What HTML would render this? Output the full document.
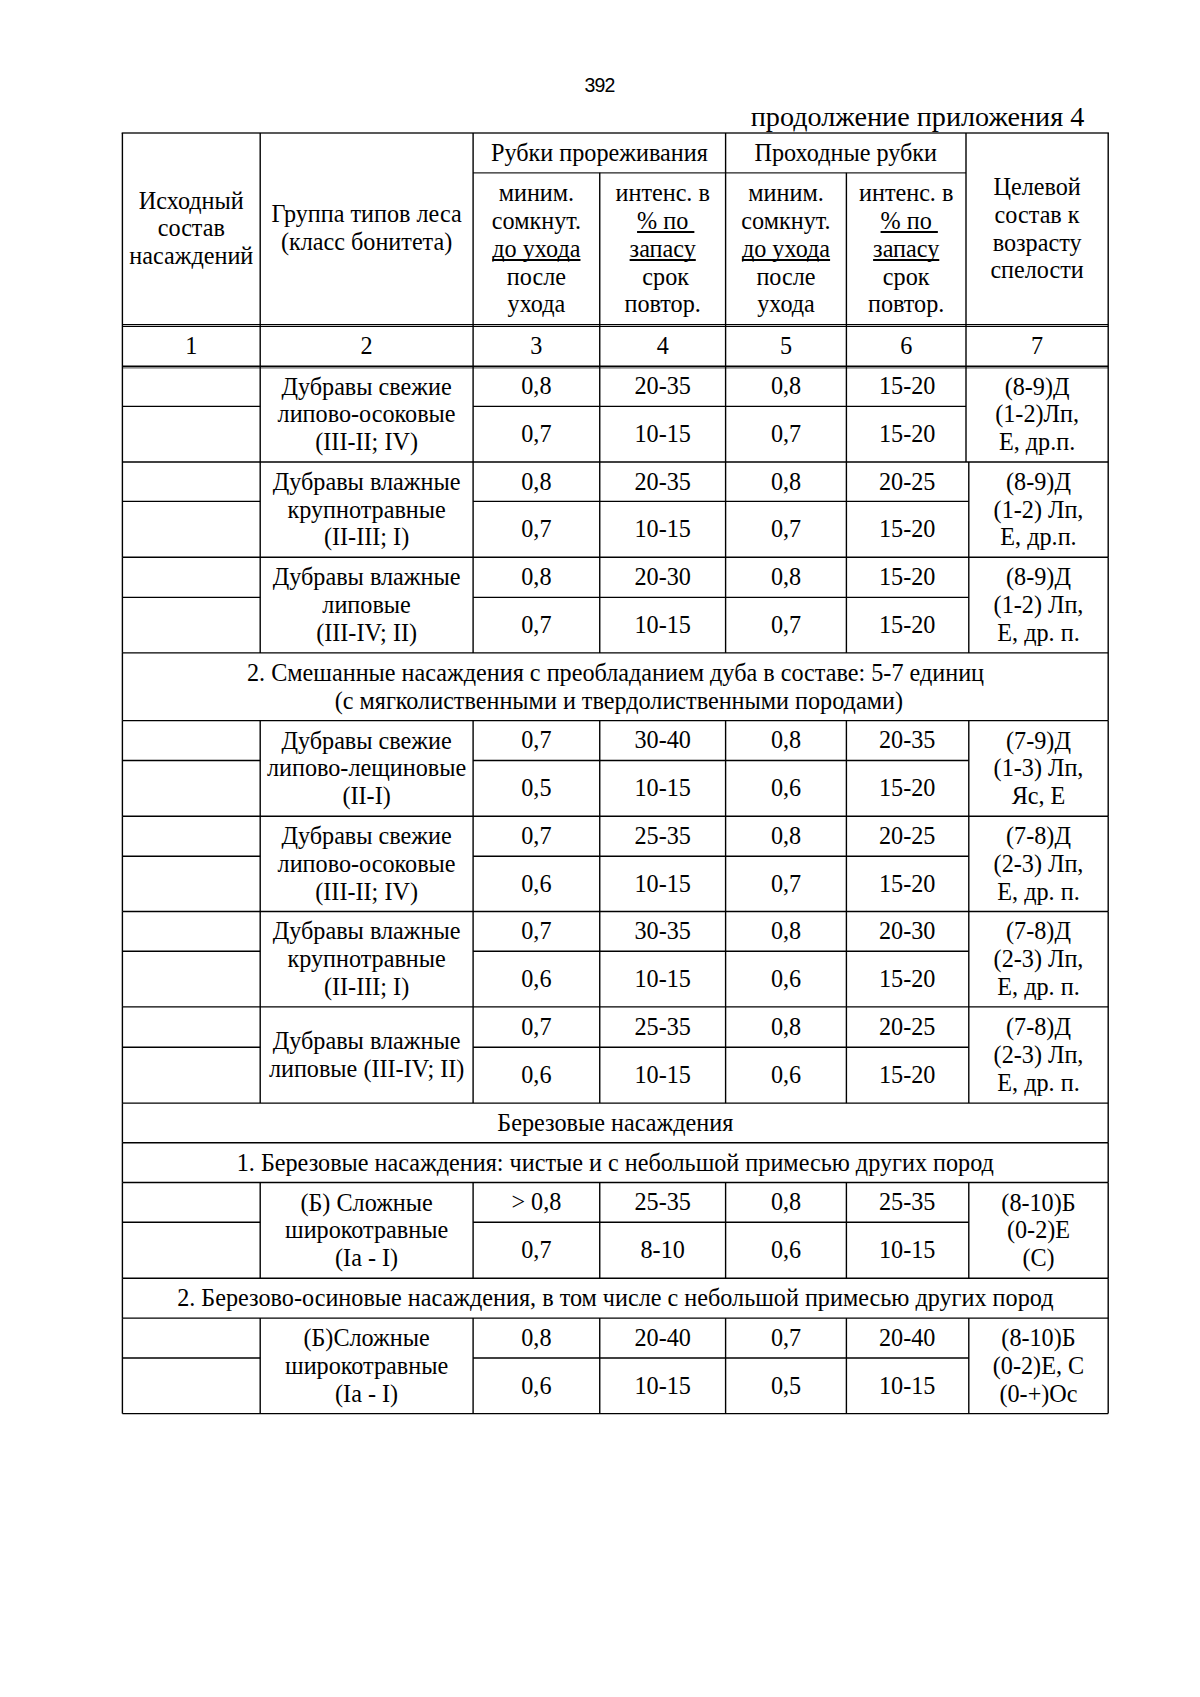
<!DOCTYPE html>
<html lang="ru"><head><meta charset="utf-8"><title>продолжение приложения 4</title>
<style>
html,body{margin:0;padding:0;background:#fff}
.pg{position:relative;width:1200px;height:1697px;background:#fff;overflow:hidden;color:#000;
 font-family:"Liberation Serif","Times New Roman",serif;font-size:24.19px;line-height:27.8px}
.pg svg{position:absolute;left:0;top:0}
.t{position:absolute;white-space:pre;transform:translateX(-50%);height:27.8px}
.n{position:absolute;white-space:pre;font-family:"Liberation Sans",Arial,sans-serif;font-size:19.5px;line-height:22px;letter-spacing:-0.9px}
.c{position:absolute;white-space:pre;font-size:28.2px;line-height:32px}
u{text-decoration-thickness:1.7px;text-underline-offset:1.7px;text-decoration-skip-ink:none}
</style></head><body>
<div class="pg">
<svg width="1200" height="1697" viewBox="0 0 1200 1697" fill="none">
<line x1="121.70" y1="133.00" x2="1108.90" y2="133.00" stroke="#222" stroke-width="1.3"/>
<line x1="473.10" y1="172.80" x2="966.00" y2="172.80" stroke="#222" stroke-width="1.3"/>
<line x1="122.40" y1="324.45" x2="1108.20" y2="324.45" stroke="#000" stroke-width="1.1"/>
<line x1="122.40" y1="326.30" x2="1108.20" y2="326.30" stroke="#000" stroke-width="1.2"/>
<line x1="122.40" y1="366.20" x2="1108.20" y2="366.20" stroke="#000" stroke-width="1.4"/>
<line x1="122.40" y1="367.80" x2="1108.20" y2="367.80" stroke="#666" stroke-width="1.2"/>
<line x1="122.40" y1="133.00" x2="122.40" y2="367.00" stroke="#000" stroke-width="1.4"/>
<line x1="260.20" y1="133.00" x2="260.20" y2="367.00" stroke="#000" stroke-width="1.4"/>
<line x1="473.10" y1="133.00" x2="473.10" y2="367.00" stroke="#000" stroke-width="1.4"/>
<line x1="725.60" y1="133.00" x2="725.60" y2="367.00" stroke="#000" stroke-width="1.4"/>
<line x1="966.00" y1="133.00" x2="966.00" y2="367.00" stroke="#000" stroke-width="1.4"/>
<line x1="1108.20" y1="133.00" x2="1108.20" y2="367.00" stroke="#000" stroke-width="1.4"/>
<line x1="599.75" y1="172.80" x2="599.75" y2="367.00" stroke="#000" stroke-width="1.4"/>
<line x1="846.40" y1="172.80" x2="846.40" y2="367.00" stroke="#000" stroke-width="1.4"/>
<line x1="122.40" y1="406.40" x2="260.20" y2="406.40" stroke="#000" stroke-width="1.4"/>
<line x1="473.10" y1="406.40" x2="966.00" y2="406.40" stroke="#000" stroke-width="1.4"/>
<line x1="122.40" y1="462.00" x2="1108.20" y2="462.00" stroke="#000" stroke-width="1.4"/>
<line x1="122.40" y1="367.00" x2="122.40" y2="462.00" stroke="#000" stroke-width="1.4"/>
<line x1="260.20" y1="367.00" x2="260.20" y2="462.00" stroke="#000" stroke-width="1.4"/>
<line x1="473.10" y1="367.00" x2="473.10" y2="462.00" stroke="#000" stroke-width="1.4"/>
<line x1="599.75" y1="367.00" x2="599.75" y2="462.00" stroke="#000" stroke-width="1.4"/>
<line x1="725.60" y1="367.00" x2="725.60" y2="462.00" stroke="#000" stroke-width="1.4"/>
<line x1="846.40" y1="367.00" x2="846.40" y2="462.00" stroke="#000" stroke-width="1.4"/>
<line x1="1108.20" y1="367.00" x2="1108.20" y2="462.00" stroke="#000" stroke-width="1.4"/>
<line x1="966.00" y1="367.00" x2="966.00" y2="462.00" stroke="#000" stroke-width="1.4"/>
<line x1="122.40" y1="501.40" x2="260.20" y2="501.40" stroke="#000" stroke-width="1.4"/>
<line x1="473.10" y1="501.40" x2="968.80" y2="501.40" stroke="#000" stroke-width="1.4"/>
<line x1="122.40" y1="557.20" x2="1108.20" y2="557.20" stroke="#000" stroke-width="1.4"/>
<line x1="122.40" y1="462.00" x2="122.40" y2="557.20" stroke="#000" stroke-width="1.4"/>
<line x1="260.20" y1="462.00" x2="260.20" y2="557.20" stroke="#000" stroke-width="1.4"/>
<line x1="473.10" y1="462.00" x2="473.10" y2="557.20" stroke="#000" stroke-width="1.4"/>
<line x1="599.75" y1="462.00" x2="599.75" y2="557.20" stroke="#000" stroke-width="1.4"/>
<line x1="725.60" y1="462.00" x2="725.60" y2="557.20" stroke="#000" stroke-width="1.4"/>
<line x1="846.40" y1="462.00" x2="846.40" y2="557.20" stroke="#000" stroke-width="1.4"/>
<line x1="1108.20" y1="462.00" x2="1108.20" y2="557.20" stroke="#000" stroke-width="1.4"/>
<line x1="968.80" y1="462.00" x2="968.80" y2="557.20" stroke="#000" stroke-width="1.4"/>
<line x1="122.40" y1="597.40" x2="260.20" y2="597.40" stroke="#000" stroke-width="1.4"/>
<line x1="473.10" y1="597.40" x2="968.80" y2="597.40" stroke="#000" stroke-width="1.4"/>
<line x1="122.40" y1="652.90" x2="1108.20" y2="652.90" stroke="#000" stroke-width="1.4"/>
<line x1="122.40" y1="557.20" x2="122.40" y2="652.90" stroke="#000" stroke-width="1.4"/>
<line x1="260.20" y1="557.20" x2="260.20" y2="652.90" stroke="#000" stroke-width="1.4"/>
<line x1="473.10" y1="557.20" x2="473.10" y2="652.90" stroke="#000" stroke-width="1.4"/>
<line x1="599.75" y1="557.20" x2="599.75" y2="652.90" stroke="#000" stroke-width="1.4"/>
<line x1="725.60" y1="557.20" x2="725.60" y2="652.90" stroke="#000" stroke-width="1.4"/>
<line x1="846.40" y1="557.20" x2="846.40" y2="652.90" stroke="#000" stroke-width="1.4"/>
<line x1="1108.20" y1="557.20" x2="1108.20" y2="652.90" stroke="#000" stroke-width="1.4"/>
<line x1="968.80" y1="557.20" x2="968.80" y2="652.90" stroke="#000" stroke-width="1.4"/>
<line x1="122.40" y1="720.60" x2="1108.20" y2="720.60" stroke="#000" stroke-width="1.4"/>
<line x1="122.40" y1="652.90" x2="122.40" y2="720.60" stroke="#000" stroke-width="1.4"/>
<line x1="1108.20" y1="652.90" x2="1108.20" y2="720.60" stroke="#000" stroke-width="1.4"/>
<line x1="122.40" y1="760.50" x2="260.20" y2="760.50" stroke="#000" stroke-width="1.4"/>
<line x1="473.10" y1="760.50" x2="968.80" y2="760.50" stroke="#000" stroke-width="1.4"/>
<line x1="122.40" y1="816.20" x2="1108.20" y2="816.20" stroke="#000" stroke-width="1.4"/>
<line x1="122.40" y1="720.60" x2="122.40" y2="816.20" stroke="#000" stroke-width="1.4"/>
<line x1="260.20" y1="720.60" x2="260.20" y2="816.20" stroke="#000" stroke-width="1.4"/>
<line x1="473.10" y1="720.60" x2="473.10" y2="816.20" stroke="#000" stroke-width="1.4"/>
<line x1="599.75" y1="720.60" x2="599.75" y2="816.20" stroke="#000" stroke-width="1.4"/>
<line x1="725.60" y1="720.60" x2="725.60" y2="816.20" stroke="#000" stroke-width="1.4"/>
<line x1="846.40" y1="720.60" x2="846.40" y2="816.20" stroke="#000" stroke-width="1.4"/>
<line x1="1108.20" y1="720.60" x2="1108.20" y2="816.20" stroke="#000" stroke-width="1.4"/>
<line x1="968.80" y1="720.60" x2="968.80" y2="816.20" stroke="#000" stroke-width="1.4"/>
<line x1="122.40" y1="856.20" x2="260.20" y2="856.20" stroke="#000" stroke-width="1.4"/>
<line x1="473.10" y1="856.20" x2="968.80" y2="856.20" stroke="#000" stroke-width="1.4"/>
<line x1="122.40" y1="911.50" x2="1108.20" y2="911.50" stroke="#000" stroke-width="1.4"/>
<line x1="122.40" y1="816.20" x2="122.40" y2="911.50" stroke="#000" stroke-width="1.4"/>
<line x1="260.20" y1="816.20" x2="260.20" y2="911.50" stroke="#000" stroke-width="1.4"/>
<line x1="473.10" y1="816.20" x2="473.10" y2="911.50" stroke="#000" stroke-width="1.4"/>
<line x1="599.75" y1="816.20" x2="599.75" y2="911.50" stroke="#000" stroke-width="1.4"/>
<line x1="725.60" y1="816.20" x2="725.60" y2="911.50" stroke="#000" stroke-width="1.4"/>
<line x1="846.40" y1="816.20" x2="846.40" y2="911.50" stroke="#000" stroke-width="1.4"/>
<line x1="1108.20" y1="816.20" x2="1108.20" y2="911.50" stroke="#000" stroke-width="1.4"/>
<line x1="968.80" y1="816.20" x2="968.80" y2="911.50" stroke="#000" stroke-width="1.4"/>
<line x1="122.40" y1="951.30" x2="260.20" y2="951.30" stroke="#000" stroke-width="1.4"/>
<line x1="473.10" y1="951.30" x2="968.80" y2="951.30" stroke="#000" stroke-width="1.4"/>
<line x1="122.40" y1="1006.90" x2="1108.20" y2="1006.90" stroke="#000" stroke-width="1.4"/>
<line x1="122.40" y1="911.50" x2="122.40" y2="1006.90" stroke="#000" stroke-width="1.4"/>
<line x1="260.20" y1="911.50" x2="260.20" y2="1006.90" stroke="#000" stroke-width="1.4"/>
<line x1="473.10" y1="911.50" x2="473.10" y2="1006.90" stroke="#000" stroke-width="1.4"/>
<line x1="599.75" y1="911.50" x2="599.75" y2="1006.90" stroke="#000" stroke-width="1.4"/>
<line x1="725.60" y1="911.50" x2="725.60" y2="1006.90" stroke="#000" stroke-width="1.4"/>
<line x1="846.40" y1="911.50" x2="846.40" y2="1006.90" stroke="#000" stroke-width="1.4"/>
<line x1="1108.20" y1="911.50" x2="1108.20" y2="1006.90" stroke="#000" stroke-width="1.4"/>
<line x1="968.80" y1="911.50" x2="968.80" y2="1006.90" stroke="#000" stroke-width="1.4"/>
<line x1="122.40" y1="1047.30" x2="260.20" y2="1047.30" stroke="#000" stroke-width="1.4"/>
<line x1="473.10" y1="1047.30" x2="968.80" y2="1047.30" stroke="#000" stroke-width="1.4"/>
<line x1="122.40" y1="1103.10" x2="1108.20" y2="1103.10" stroke="#000" stroke-width="1.4"/>
<line x1="122.40" y1="1006.90" x2="122.40" y2="1103.10" stroke="#000" stroke-width="1.4"/>
<line x1="260.20" y1="1006.90" x2="260.20" y2="1103.10" stroke="#000" stroke-width="1.4"/>
<line x1="473.10" y1="1006.90" x2="473.10" y2="1103.10" stroke="#000" stroke-width="1.4"/>
<line x1="599.75" y1="1006.90" x2="599.75" y2="1103.10" stroke="#000" stroke-width="1.4"/>
<line x1="725.60" y1="1006.90" x2="725.60" y2="1103.10" stroke="#000" stroke-width="1.4"/>
<line x1="846.40" y1="1006.90" x2="846.40" y2="1103.10" stroke="#000" stroke-width="1.4"/>
<line x1="1108.20" y1="1006.90" x2="1108.20" y2="1103.10" stroke="#000" stroke-width="1.4"/>
<line x1="968.80" y1="1006.90" x2="968.80" y2="1103.10" stroke="#000" stroke-width="1.4"/>
<line x1="122.40" y1="1142.70" x2="1108.20" y2="1142.70" stroke="#000" stroke-width="1.4"/>
<line x1="122.40" y1="1103.10" x2="122.40" y2="1142.70" stroke="#000" stroke-width="1.4"/>
<line x1="1108.20" y1="1103.10" x2="1108.20" y2="1142.70" stroke="#000" stroke-width="1.4"/>
<line x1="122.40" y1="1182.50" x2="1108.20" y2="1182.50" stroke="#000" stroke-width="1.4"/>
<line x1="122.40" y1="1142.70" x2="122.40" y2="1182.50" stroke="#000" stroke-width="1.4"/>
<line x1="1108.20" y1="1142.70" x2="1108.20" y2="1182.50" stroke="#000" stroke-width="1.4"/>
<line x1="122.40" y1="1222.30" x2="260.20" y2="1222.30" stroke="#000" stroke-width="1.4"/>
<line x1="473.10" y1="1222.30" x2="968.80" y2="1222.30" stroke="#000" stroke-width="1.4"/>
<line x1="122.40" y1="1278.20" x2="1108.20" y2="1278.20" stroke="#000" stroke-width="1.4"/>
<line x1="122.40" y1="1182.50" x2="122.40" y2="1278.20" stroke="#000" stroke-width="1.4"/>
<line x1="260.20" y1="1182.50" x2="260.20" y2="1278.20" stroke="#000" stroke-width="1.4"/>
<line x1="473.10" y1="1182.50" x2="473.10" y2="1278.20" stroke="#000" stroke-width="1.4"/>
<line x1="599.75" y1="1182.50" x2="599.75" y2="1278.20" stroke="#000" stroke-width="1.4"/>
<line x1="725.60" y1="1182.50" x2="725.60" y2="1278.20" stroke="#000" stroke-width="1.4"/>
<line x1="846.40" y1="1182.50" x2="846.40" y2="1278.20" stroke="#000" stroke-width="1.4"/>
<line x1="1108.20" y1="1182.50" x2="1108.20" y2="1278.20" stroke="#000" stroke-width="1.4"/>
<line x1="968.80" y1="1182.50" x2="968.80" y2="1278.20" stroke="#000" stroke-width="1.4"/>
<line x1="122.40" y1="1318.10" x2="1108.20" y2="1318.10" stroke="#000" stroke-width="1.4"/>
<line x1="122.40" y1="1278.20" x2="122.40" y2="1318.10" stroke="#000" stroke-width="1.4"/>
<line x1="1108.20" y1="1278.20" x2="1108.20" y2="1318.10" stroke="#000" stroke-width="1.4"/>
<line x1="122.40" y1="1358.00" x2="260.20" y2="1358.00" stroke="#000" stroke-width="1.4"/>
<line x1="473.10" y1="1358.00" x2="968.80" y2="1358.00" stroke="#000" stroke-width="1.4"/>
<line x1="122.40" y1="1413.60" x2="1108.20" y2="1413.60" stroke="#000" stroke-width="1.4"/>
<line x1="122.40" y1="1318.10" x2="122.40" y2="1413.60" stroke="#000" stroke-width="1.4"/>
<line x1="260.20" y1="1318.10" x2="260.20" y2="1413.60" stroke="#000" stroke-width="1.4"/>
<line x1="473.10" y1="1318.10" x2="473.10" y2="1413.60" stroke="#000" stroke-width="1.4"/>
<line x1="599.75" y1="1318.10" x2="599.75" y2="1413.60" stroke="#000" stroke-width="1.4"/>
<line x1="725.60" y1="1318.10" x2="725.60" y2="1413.60" stroke="#000" stroke-width="1.4"/>
<line x1="846.40" y1="1318.10" x2="846.40" y2="1413.60" stroke="#000" stroke-width="1.4"/>
<line x1="1108.20" y1="1318.10" x2="1108.20" y2="1413.60" stroke="#000" stroke-width="1.4"/>
<line x1="968.80" y1="1318.10" x2="968.80" y2="1413.60" stroke="#000" stroke-width="1.4"/>
</svg>
<div class="n" style="left:584.5px;top:74.0px">392</div>
<div class="c" style="right:115.7px;top:101.0px">продолжение приложения 4</div>
<div class="t" style="left:191.3px;top:187.1px">Исходный</div>
<div class="t" style="left:191.3px;top:214.1px">состав</div>
<div class="t" style="left:191.3px;top:242.1px">насаждений</div>
<div class="t" style="left:366.6px;top:200.1px">Группа типов леса</div>
<div class="t" style="left:366.6px;top:228.1px">(класс бонитета)</div>
<div class="t" style="left:599.4px;top:139.1px">Рубки прореживания</div>
<div class="t" style="left:845.8px;top:139.1px">Проходные рубки</div>
<div class="t" style="left:536.4px;top:179.1px">миним.</div>
<div class="t" style="left:536.4px;top:207.1px">сомкнут.</div>
<div class="t" style="left:536.4px;top:235.1px"><u>до ухода</u></div>
<div class="t" style="left:536.4px;top:263.1px">после</div>
<div class="t" style="left:536.4px;top:290.1px">ухода</div>
<div class="t" style="left:662.7px;top:179.1px">интенс. в</div>
<div class="t" style="left:662.7px;top:207.1px"> <u>% по </u></div>
<div class="t" style="left:662.7px;top:235.1px"><u>запасу</u></div>
<div class="t" style="left:662.7px;top:263.1px"> срок</div>
<div class="t" style="left:662.7px;top:290.1px">повтор.</div>
<div class="t" style="left:786.0px;top:179.1px">миним.</div>
<div class="t" style="left:786.0px;top:207.1px">сомкнут.</div>
<div class="t" style="left:786.0px;top:235.1px"><u>до ухода</u></div>
<div class="t" style="left:786.0px;top:263.1px">после</div>
<div class="t" style="left:786.0px;top:290.1px">ухода</div>
<div class="t" style="left:906.2px;top:179.1px">интенс. в</div>
<div class="t" style="left:906.2px;top:207.1px"> <u>% по </u></div>
<div class="t" style="left:906.2px;top:235.1px"><u>запасу</u></div>
<div class="t" style="left:906.2px;top:263.1px">срок</div>
<div class="t" style="left:906.2px;top:290.1px">повтор.</div>
<div class="t" style="left:1037.1px;top:173.1px">Целевой</div>
<div class="t" style="left:1037.1px;top:201.1px">состав к</div>
<div class="t" style="left:1037.1px;top:229.1px">возрасту</div>
<div class="t" style="left:1037.1px;top:256.1px">спелости</div>
<div class="t" style="left:191.3px;top:332.1px">1</div>
<div class="t" style="left:366.6px;top:332.1px">2</div>
<div class="t" style="left:536.4px;top:332.1px">3</div>
<div class="t" style="left:662.7px;top:332.1px">4</div>
<div class="t" style="left:786.0px;top:332.1px">5</div>
<div class="t" style="left:906.2px;top:332.1px">6</div>
<div class="t" style="left:1037.1px;top:332.1px">7</div>
<div class="t" style="left:366.6px;top:373.1px">Дубравы свежие</div>
<div class="t" style="left:366.6px;top:400.1px">липово-осоковые</div>
<div class="t" style="left:366.6px;top:428.1px">(III-II; IV)</div>
<div class="t" style="left:536.4px;top:372.1px">0,8</div>
<div class="t" style="left:536.4px;top:420.1px">0,7</div>
<div class="t" style="left:662.7px;top:372.1px">20-35</div>
<div class="t" style="left:662.7px;top:420.1px">10-15</div>
<div class="t" style="left:786.0px;top:372.1px">0,8</div>
<div class="t" style="left:786.0px;top:420.1px">0,7</div>
<div class="t" style="left:907.2px;top:372.1px">15-20</div>
<div class="t" style="left:907.2px;top:420.1px">15-20</div>
<div class="t" style="left:1037.1px;top:373.1px">(8-9)Д</div>
<div class="t" style="left:1037.1px;top:400.1px">(1-2)Лп,</div>
<div class="t" style="left:1037.1px;top:428.1px">Е, др.п.</div>
<div class="t" style="left:366.6px;top:468.1px">Дубравы влажные</div>
<div class="t" style="left:366.6px;top:496.1px">крупнотравные</div>
<div class="t" style="left:366.6px;top:523.1px">(II-III; I)</div>
<div class="t" style="left:536.4px;top:468.1px">0,8</div>
<div class="t" style="left:536.4px;top:515.1px">0,7</div>
<div class="t" style="left:662.7px;top:468.1px">20-35</div>
<div class="t" style="left:662.7px;top:515.1px">10-15</div>
<div class="t" style="left:786.0px;top:468.1px">0,8</div>
<div class="t" style="left:786.0px;top:515.1px">0,7</div>
<div class="t" style="left:907.2px;top:468.1px">20-25</div>
<div class="t" style="left:907.2px;top:515.1px">15-20</div>
<div class="t" style="left:1038.5px;top:468.1px">(8-9)Д</div>
<div class="t" style="left:1038.5px;top:496.1px">(1-2) Лп,</div>
<div class="t" style="left:1038.5px;top:523.1px">Е, др.п.</div>
<div class="t" style="left:366.6px;top:563.1px">Дубравы влажные</div>
<div class="t" style="left:366.6px;top:591.1px">липовые</div>
<div class="t" style="left:366.6px;top:619.1px">(III-IV; II)</div>
<div class="t" style="left:536.4px;top:563.1px">0,8</div>
<div class="t" style="left:536.4px;top:611.1px">0,7</div>
<div class="t" style="left:662.7px;top:563.1px">20-30</div>
<div class="t" style="left:662.7px;top:611.1px">10-15</div>
<div class="t" style="left:786.0px;top:563.1px">0,8</div>
<div class="t" style="left:786.0px;top:611.1px">0,7</div>
<div class="t" style="left:907.2px;top:563.1px">15-20</div>
<div class="t" style="left:907.2px;top:611.1px">15-20</div>
<div class="t" style="left:1038.5px;top:563.1px">(8-9)Д</div>
<div class="t" style="left:1038.5px;top:591.1px">(1-2) Лп,</div>
<div class="t" style="left:1038.5px;top:619.1px">Е, др. п.</div>
<div class="t" style="left:615.5px;top:659.1px">2. Смешанные насаждения с преобладанием дуба в составе: 5-7 единиц</div>
<div class="t" style="left:618.8px;top:687.1px">(с мягколиственными и твердолиственными породами)</div>
<div class="t" style="left:366.6px;top:727.1px">Дубравы свежие</div>
<div class="t" style="left:366.6px;top:754.1px">липово-лещиновые</div>
<div class="t" style="left:366.6px;top:782.1px">(II-I)</div>
<div class="t" style="left:536.4px;top:726.1px">0,7</div>
<div class="t" style="left:536.4px;top:774.1px">0,5</div>
<div class="t" style="left:662.7px;top:726.1px">30-40</div>
<div class="t" style="left:662.7px;top:774.1px">10-15</div>
<div class="t" style="left:786.0px;top:726.1px">0,8</div>
<div class="t" style="left:786.0px;top:774.1px">0,6</div>
<div class="t" style="left:907.2px;top:726.1px">20-35</div>
<div class="t" style="left:907.2px;top:774.1px">15-20</div>
<div class="t" style="left:1038.5px;top:727.1px">(7-9)Д</div>
<div class="t" style="left:1038.5px;top:754.1px">(1-3) Лп,</div>
<div class="t" style="left:1038.5px;top:782.1px">Яс, Е</div>
<div class="t" style="left:366.6px;top:822.1px">Дубравы свежие</div>
<div class="t" style="left:366.6px;top:850.1px">липово-осоковые</div>
<div class="t" style="left:366.6px;top:878.1px">(III-II; IV)</div>
<div class="t" style="left:536.4px;top:822.1px">0,7</div>
<div class="t" style="left:536.4px;top:870.1px">0,6</div>
<div class="t" style="left:662.7px;top:822.1px">25-35</div>
<div class="t" style="left:662.7px;top:870.1px">10-15</div>
<div class="t" style="left:786.0px;top:822.1px">0,8</div>
<div class="t" style="left:786.0px;top:870.1px">0,7</div>
<div class="t" style="left:907.2px;top:822.1px">20-25</div>
<div class="t" style="left:907.2px;top:870.1px">15-20</div>
<div class="t" style="left:1038.5px;top:822.1px">(7-8)Д</div>
<div class="t" style="left:1038.5px;top:850.1px">(2-3) Лп,</div>
<div class="t" style="left:1038.5px;top:878.1px">Е, др. п.</div>
<div class="t" style="left:366.6px;top:917.1px">Дубравы влажные</div>
<div class="t" style="left:366.6px;top:945.1px">крупнотравные</div>
<div class="t" style="left:366.6px;top:973.1px">(II-III; I)</div>
<div class="t" style="left:536.4px;top:917.1px">0,7</div>
<div class="t" style="left:536.4px;top:965.1px">0,6</div>
<div class="t" style="left:662.7px;top:917.1px">30-35</div>
<div class="t" style="left:662.7px;top:965.1px">10-15</div>
<div class="t" style="left:786.0px;top:917.1px">0,8</div>
<div class="t" style="left:786.0px;top:965.1px">0,6</div>
<div class="t" style="left:907.2px;top:917.1px">20-30</div>
<div class="t" style="left:907.2px;top:965.1px">15-20</div>
<div class="t" style="left:1038.5px;top:917.1px">(7-8)Д</div>
<div class="t" style="left:1038.5px;top:945.1px">(2-3) Лп,</div>
<div class="t" style="left:1038.5px;top:973.1px">Е, др. п.</div>
<div class="t" style="left:366.6px;top:1027.1px">Дубравы влажные</div>
<div class="t" style="left:366.6px;top:1055.1px">липовые (III-IV; II)</div>
<div class="t" style="left:536.4px;top:1013.1px">0,7</div>
<div class="t" style="left:536.4px;top:1061.1px">0,6</div>
<div class="t" style="left:662.7px;top:1013.1px">25-35</div>
<div class="t" style="left:662.7px;top:1061.1px">10-15</div>
<div class="t" style="left:786.0px;top:1013.1px">0,8</div>
<div class="t" style="left:786.0px;top:1061.1px">0,6</div>
<div class="t" style="left:907.2px;top:1013.1px">20-25</div>
<div class="t" style="left:907.2px;top:1061.1px">15-20</div>
<div class="t" style="left:1038.5px;top:1013.1px">(7-8)Д</div>
<div class="t" style="left:1038.5px;top:1041.1px">(2-3) Лп,</div>
<div class="t" style="left:1038.5px;top:1069.1px">Е, др. п.</div>
<div class="t" style="left:615.3px;top:1109.1px">Березовые насаждения</div>
<div class="t" style="left:615.3px;top:1149.1px">1. Березовые насаждения: чистые и с небольшой примесью других пород</div>
<div class="t" style="left:366.6px;top:1189.1px">(Б) Сложные</div>
<div class="t" style="left:366.6px;top:1216.1px">широкотравные</div>
<div class="t" style="left:366.6px;top:1244.1px">(Iа - I)</div>
<div class="t" style="left:536.4px;top:1188.1px">&gt; 0,8</div>
<div class="t" style="left:536.4px;top:1236.1px">0,7</div>
<div class="t" style="left:662.7px;top:1188.1px">25-35</div>
<div class="t" style="left:662.7px;top:1236.1px">8-10</div>
<div class="t" style="left:786.0px;top:1188.1px">0,8</div>
<div class="t" style="left:786.0px;top:1236.1px">0,6</div>
<div class="t" style="left:907.2px;top:1188.1px">25-35</div>
<div class="t" style="left:907.2px;top:1236.1px">10-15</div>
<div class="t" style="left:1038.5px;top:1189.1px">(8-10)Б</div>
<div class="t" style="left:1038.5px;top:1216.1px">(0-2)Е</div>
<div class="t" style="left:1038.5px;top:1244.1px">(С)</div>
<div class="t" style="left:615.3px;top:1284.1px">2. Березово-осиновые насаждения, в том числе с небольшой примесью других пород</div>
<div class="t" style="left:366.6px;top:1324.1px">(Б)Сложные</div>
<div class="t" style="left:366.6px;top:1352.1px">широкотравные</div>
<div class="t" style="left:366.6px;top:1380.1px">(Iа - I)</div>
<div class="t" style="left:536.4px;top:1324.1px">0,8</div>
<div class="t" style="left:536.4px;top:1372.1px">0,6</div>
<div class="t" style="left:662.7px;top:1324.1px">20-40</div>
<div class="t" style="left:662.7px;top:1372.1px">10-15</div>
<div class="t" style="left:786.0px;top:1324.1px">0,7</div>
<div class="t" style="left:786.0px;top:1372.1px">0,5</div>
<div class="t" style="left:907.2px;top:1324.1px">20-40</div>
<div class="t" style="left:907.2px;top:1372.1px">10-15</div>
<div class="t" style="left:1038.5px;top:1324.1px">(8-10)Б</div>
<div class="t" style="left:1038.5px;top:1352.1px">(0-2)Е, С</div>
<div class="t" style="left:1038.5px;top:1380.1px">(0-+)Ос</div>
</div>
</body></html>
